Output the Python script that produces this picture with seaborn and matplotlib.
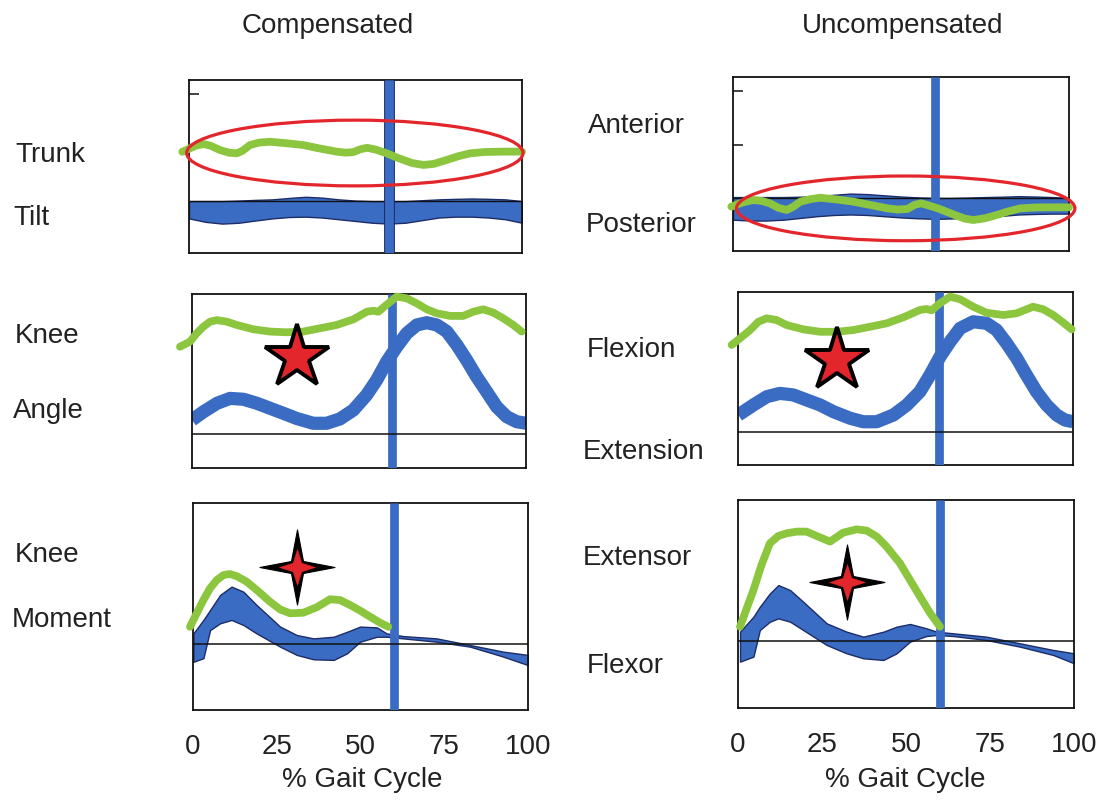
import matplotlib
matplotlib.use("Agg")
import matplotlib.pyplot as plt
import seaborn as sns
import numpy as np
from matplotlib.patches import Ellipse
from matplotlib.path import Path
import matplotlib.patheffects as pe

# ---------------- data (x = % gait cycle, y = relative panel units 0..100) ----------------
columns = ["Compensated", "Uncompensated"]
row_labels = [["Trunk", "Tilt"], ["Knee", "Angle"], ["Knee", "Moment"]]
right_labels = [["Anterior", "Posterior"], ["Flexion", "Extension"], ["Extensor", "Flexor"]]
tick_values = [0, 25, 50, 75, 100]
tick_labels = ["0", "25", "50", "75", "100"]
event_pct = 60

# Trunk tilt - normal band
trunk_band_x = [0, 5, 10, 15, 20, 25, 30, 35, 40, 45, 50, 55, 60, 65, 70, 75, 80, 85, 90, 95, 100]
trunk_comp_lo = [20, 18, 17, 17.5, 18.8, 20, 20.8, 21, 20.5, 19.5, 18.5, 17.5, 17, 17.5, 19, 20.5, 21, 21, 20.5, 19.5, 17.5]
trunk_comp_hi = [30, 30, 30, 30.3, 30.7, 31, 31.8, 32.5, 32, 31, 30.3, 30, 30, 30, 30.5, 31, 31.3, 31.5, 31.3, 31, 30]
trunk_unc_lo = [18, 17.5, 17.5, 18, 19, 20, 20.7, 21, 20.7, 20, 19.3, 18.8, 18.5, 18.7, 19.2, 19.5, 20.2, 21, 21.3, 21.5, 21.5]
trunk_unc_hi = [31, 31, 31, 31, 31.2, 31.5, 32.3, 33, 32.7, 32, 31.3, 30.8, 30.5, 30.5, 30.7, 31, 31.2, 31.5, 31.3, 31, 30.5]
# Trunk tilt - patient
trunk_comp_x = [-2, 2, 4.3, 6.5, 9.3, 12, 14.3, 16, 18.3, 21, 24.3, 29, 34.3, 39, 44.3, 47, 49.3, 51.5,
                53.5, 56, 59.4, 62, 64.4, 67, 70.4, 73.5, 77.4, 81, 84.4, 89, 94.4, 100]
trunk_comp_y = [58.5, 62, 63, 62, 59.5, 58, 57.6, 59, 62.4, 63.8, 64.3, 63.5, 62.4, 60.5, 58.6, 58, 58.3, 60,
                60.8, 59.8, 57.6, 55.5, 53.8, 52, 50.9, 51.5, 53.8, 56, 57.6, 58.4, 58.6, 58.6]
trunk_unc_x = [-0.5, 3, 6, 8.5, 11, 13.5, 16, 18, 20, 23, 26, 31, 36, 41, 46, 49, 52, 54, 56, 58.5,
               61, 63.5, 66, 69, 71.5, 75, 78.5, 82, 85.5, 90, 95, 100]
trunk_unc_y = [25.5, 28, 29.3, 28.8, 27.4, 24.8, 23.6, 25.5, 28.3, 29.8, 30.6, 29.6, 28.3, 26.4, 24.5, 23.8,
               24.2, 26.5, 27.4, 26, 24.5, 22.6, 20.7, 18.6, 17.8, 18.8, 20.7, 22.8, 24.5, 25, 25.1, 25.1]
trunk_zero = [30, 30.6]
trunk_ellipse = [(49.8, 57.8, 101, 38), (51.4, 24.5, 100.7, 37.2)]  # cx, cy, w, h

# Knee angle - normal band (centre line)
kang_comp_bx = [0, 3.5, 7.5, 11.4, 15.4, 19.4, 23.4, 27.4, 31.3, 36.3, 40.3, 44.3, 48.3, 52.3, 55.3,
                58.3, 61.3, 64.3, 67.3, 70.3, 73.3, 76.3, 79.3, 82.2, 85.2, 88.2, 91.2, 94.2, 97.2, 100]
kang_comp_by = [27.6, 32.4, 37.2, 40, 39.5, 37.2, 34.3, 31.4, 28.5, 25.7, 25.7, 28.2, 33.3, 42, 50.6,
                61.1, 69.7, 77.4, 82.2, 83.5, 82.2, 78.4, 70.7, 62.1, 52.5, 43.9, 35.2, 29.5, 26.6, 25.7]
kang_unc_bx = [0.1, 4.6, 8.6, 12.5, 16.5, 20.5, 24.5, 28.5, 33.5, 37.4, 41.4, 46.4, 50.4, 54.3, 57.3,
               60.3, 63.3, 66.3, 70.2, 74.2, 77.2, 80.2, 83.2, 86.1, 89.1, 92.1, 95.1, 97.6, 100]
kang_unc_by = [28.9, 34.7, 39.5, 41.4, 40.5, 37.6, 34.7, 30.8, 27, 25, 25, 28.9, 34.7, 42.4, 52,
               62.6, 71.3, 79, 82.8, 81.9, 78, 70.3, 61.7, 52, 42.4, 34.7, 28.9, 26, 25]
# Knee angle - patient
kang_comp_x = [-3.6, -0.6, 1.4, 3.4, 5.4, 7.4, 10.4, 13.4, 18.4, 23.4, 28.3, 33.3, 38.3, 43.3, 48.3, 52.3,
               54.3, 55.8, 57.8, 61.3, 64.3, 67.3, 70.3, 73.3, 77.3, 81.2, 84.2, 87.2, 90.2, 93.2, 96.2, 98.7]
kang_comp_y = [69.7, 72.6, 77.4, 81.2, 84.1, 85, 84.1, 82.2, 79.7, 78.4, 78, 78.4, 80.3, 82.2, 85.4, 89.8,
               90.4, 89.8, 93.1, 98.5, 97.5, 94.6, 91.2, 88.9, 87.4, 87.4, 89.8, 91.2, 89.3, 86, 82.2, 78.4]
kang_unc_x = [-1.9, 0.6, 3.6, 6.1, 8.6, 11.5, 14.5, 19.5, 24.5, 29.5, 34.4, 39.4, 44.4, 49.4, 54.3, 56.3,
              57.8, 60.3, 63.3, 66.3, 70.2, 74.2, 79.2, 83.2, 88.1, 91.1, 94.1, 97.1, 99.6]
kang_unc_y = [69.4, 73.2, 78, 82.8, 84.8, 83.8, 80.9, 78.4, 77, 77, 78, 79.9, 81.9, 85.4, 89.6, 90.2,
              89.4, 93.5, 97.3, 95.8, 91.5, 88, 86.7, 87.7, 91.5, 90, 86.7, 82.3, 78.4]
kang_zero = [19.5, 19.3]
kang_star = [(31.3, 64), (29.5, 60.7)]

# Knee moment - normal band
kmom_comp_bx = [0.1, 3.1, 5.1, 8.1, 11.5, 15.0, 19.0, 26.0, 31.0, 36.0, 42.0, 46.0, 49.9, 54.9, 57.8, 62.8, 72.7, 82.7, 92.6, 100]
kmom_comp_hi = [37.0, 43.5, 48.3, 55.6, 59.6, 57.2, 50.7, 40.3, 36.2, 34.6, 35.4, 37.8, 40.3, 39.9, 37.0, 35.7, 34.6, 31.4, 28.2, 26.6]
kmom_comp_lo = [23.3, 25.0, 38.6, 41.9, 43.5, 41.1, 37.0, 30.6, 26.6, 24.5, 24.2, 27.4, 33.0, 35.4, 35.4, 34.6, 33.0, 30.6, 25.8, 21.7]
kmom_unc_bx = [0.6, 4.6, 6.5, 9.5, 12.0, 15.5, 19.4, 26.4, 32.3, 37.3, 43.3, 47.2, 51.2, 56.1, 59.1, 64.1, 73.9, 83.9, 93.8, 100]
kmom_unc_hi = [36.7, 43.9, 48.7, 55.1, 59.1, 56.7, 51.1, 40.7, 36.7, 34.3, 36.7, 39.1, 40.4, 38.3, 36.7, 35.9, 34.3, 31.1, 27.9, 26.3]
kmom_unc_lo = [22.3, 24.7, 37.5, 41.5, 43.1, 41.5, 37.5, 30.3, 26.3, 23.9, 23.1, 26.3, 31.9, 34.6, 35.1, 34.6, 32.7, 29.5, 25.5, 21.5]
# Knee moment - patient (stance only)
kmom_comp_x = [-0.9, 1.1, 3.1, 5.1, 7.1, 9.1, 11.0, 13.0, 16.0, 19.0, 23.0, 26.0, 29.0, 32.9, 36.9, 40.9,
               43.9, 46.9, 49.9, 52.8, 55.8, 58.3]
kmom_comp_y = [40.2, 46.7, 53.1, 58.8, 62.8, 65.2, 65.7, 64.7, 62.0, 58, 52.3, 48.6, 46.7, 47, 49.6, 53.5,
               53.1, 50.7, 48, 45.1, 42.2, 40.2]
kmom_unc_x = [0.6, 2.6, 4.6, 7.0, 9.5, 12.0, 14.5, 17.5, 20.4, 23.4, 27.4, 31.3, 35.3, 38.3, 41.3, 44.2,
              48.2, 51.2, 54.2, 57.1, 60.1]
kmom_unc_y = [39.1, 47.9, 56.7, 68.8, 79.2, 82.7, 84, 84.8, 84.8, 82.7, 80, 84.3, 85.9, 85.3, 82.4, 77.6,
              69.6, 61.5, 53.5, 45.8, 39.1]
kmom_zero = [31.7, 32.2]
kmom_star = [(31, 68.9), (32.3, 60.7)]

# ---------------- style ----------------
BLUE = "#3b6cc4"
BLUE_EDGE = "#1c2c66"
GREEN = "#8cc63f"
RED = "#e3262b"
TXT = "#222222"

sns.set_theme(style="white")
plt.rcParams["font.family"] = ["Liberation Sans", "DejaVu Sans"]

W, H = 1104, 808
fig = plt.figure(figsize=(W / 100, H / 100), dpi=100)
fig.patch.set_facecolor("white")

def px_rect(l, t, r, b):
    return [l / W, 1 - b / H, (r - l) / W, (b - t) / H]

rects = [
    [px_rect(189, 80, 522, 253), px_rect(733, 77, 1069, 251)],
    [px_rect(192, 294, 526, 468), px_rect(738, 292, 1073, 465)],
    [px_rect(193, 503, 528, 710), px_rect(738, 500, 1074, 708)],
]

def star4_path(a):
    verts = [(0, 1), (a, a), (1, 0), (a, -a), (0, -1), (-a, -a), (-1, 0), (-a, a), (0, 1)]
    codes = [Path.MOVETO] + [Path.LINETO] * 7 + [Path.CLOSEPOLY]
    return Path(verts, codes)

STAR4_BIG = star4_path(0.16)
STAR4_SMALL = star4_path(0.24)

def base_axes(r, c):
    ax = fig.add_axes(rects[r][c])
    ax.set_xlim(0, 100)
    ax.set_ylim(0, 100)
    ax.set_facecolor("white")
    for s in ax.spines.values():
        s.set_color("#111111")
        s.set_linewidth(1.3)
        s.set_visible(True)
    ax.set_xticks(tick_values)
    ax.tick_params(axis="x", direction="in", length=5, width=1.1, color="#111111",
                   labelsize=20, labelcolor=TXT, pad=17)
    ax.set_xticklabels(tick_labels if r == 2 else [])
    if r == 0:
        ax.set_yticks([61, 92])
        ax.tick_params(axis="y", direction="in", length=7, width=1.1, color="#111111", left=True)
    else:
        ax.set_yticks([])
    ax.set_yticklabels([])
    ax.set_xlabel("")
    ax.set_ylabel("")
    return ax

def event_line(ax, outlined=False):
    ln = ax.axvline(event_pct, color=BLUE, lw=6.3, zorder=3, solid_capstyle="butt")
    if outlined:
        ln.set_path_effects([pe.Stroke(linewidth=7.8, foreground=BLUE_EDGE), pe.Normal()])

def green_line(ax, x, y):
    sns.lineplot(x=x, y=y, ax=ax, color=GREEN, lw=5.6, sort=False, estimator=None,
                 solid_capstyle="round", solid_joinstyle="round", zorder=5, clip_on=False)

# Row 0: trunk tilt
trunk_lo = [trunk_comp_lo, trunk_unc_lo]
trunk_hi = [trunk_comp_hi, trunk_unc_hi]
trunk_gx = [trunk_comp_x, trunk_unc_x]
trunk_gy = [trunk_comp_y, trunk_unc_y]
for c in range(2):
    ax = base_axes(0, c)
    ax.fill_between(trunk_band_x, trunk_lo[c], trunk_hi[c], color=BLUE, edgecolor=BLUE_EDGE,
                    lw=1.0, zorder=2)
    ax.axhline(trunk_zero[c], color="#111111", lw=1.0, zorder=2.5)
    event_line(ax, outlined=(c == 0))
    green_line(ax, trunk_gx[c], trunk_gy[c])
    cx, cy, ew, eh = trunk_ellipse[c]
    ax.add_patch(Ellipse((cx, cy), ew, eh, fill=False, edgecolor=RED, lw=2.3, zorder=6,
                         clip_on=False))

# Row 1: knee angle
kang_bx = [kang_comp_bx, kang_unc_bx]
kang_by = [kang_comp_by, kang_unc_by]
kang_gx = [kang_comp_x, kang_unc_x]
kang_gy = [kang_comp_y, kang_unc_y]
for c in range(2):
    ax = base_axes(1, c)
    sns.lineplot(x=kang_bx[c], y=kang_by[c], ax=ax, color=BLUE, lw=9.5, sort=False,
                 estimator=None, solid_joinstyle="round", solid_capstyle="butt", zorder=2)
    event_line(ax)
    ax.axhline(kang_zero[c], color="#111111", lw=1.1, zorder=4)
    green_line(ax, kang_gx[c], kang_gy[c])
    sx, sy = kang_star[c]
    ax.plot([sx], [sy], marker="*", ms=48, mfc=RED, mec="black", mew=2.8, ls="none", zorder=7)

# Row 2: knee moment
kmom_bx = [kmom_comp_bx, kmom_unc_bx]
kmom_lo = [kmom_comp_lo, kmom_unc_lo]
kmom_hi = [kmom_comp_hi, kmom_unc_hi]
kmom_gx = [kmom_comp_x, kmom_unc_x]
kmom_gy = [kmom_comp_y, kmom_unc_y]
for c in range(2):
    ax = base_axes(2, c)
    ax.fill_between(kmom_bx[c], kmom_lo[c], kmom_hi[c], color=BLUE, edgecolor=BLUE_EDGE,
                    lw=1.0, zorder=2)
    event_line(ax)
    ax.axhline(kmom_zero[c], color="#111111", lw=1.1, zorder=4)
    green_line(ax, kmom_gx[c], kmom_gy[c])
    sx, sy = kmom_star[c]
    ax.plot([sx], [sy], marker=STAR4_BIG, ms=54, mfc="black", mec="black", mew=0.8,
            ls="none", zorder=7)
    ax.plot([sx], [sy], marker=STAR4_SMALL, ms=26, mfc=RED, mec=RED, mew=0.3,
            ls="none", zorder=8)

# ---------------- text ----------------
def ftext(x, y, s, ha="left"):
    fig.text(x / W, 1 - y / H, s, ha=ha, va="baseline", fontsize=20, color=TXT)

ftext(328, 33, columns[0], ha="center")
ftext(903, 33, columns[1], ha="center")

left_pos = [[(15, 162), (13, 225)], [(15, 343), (13, 418)], [(15, 562), (12, 627)]]
right_pos = [[(588, 133), (586, 232)], [(587, 357), (583, 459)], [(583, 565), (587, 673)]]
for r in range(3):
    for k in range(2):
        ftext(*left_pos[r][k], row_labels[r][k])
        ftext(*right_pos[r][k], right_labels[r][k])

ftext(362, 787, "% Gait Cycle", ha="center")
ftext(905, 787, "% Gait Cycle", ha="center")

fig.savefig("out.png", dpi=100, facecolor="white")
